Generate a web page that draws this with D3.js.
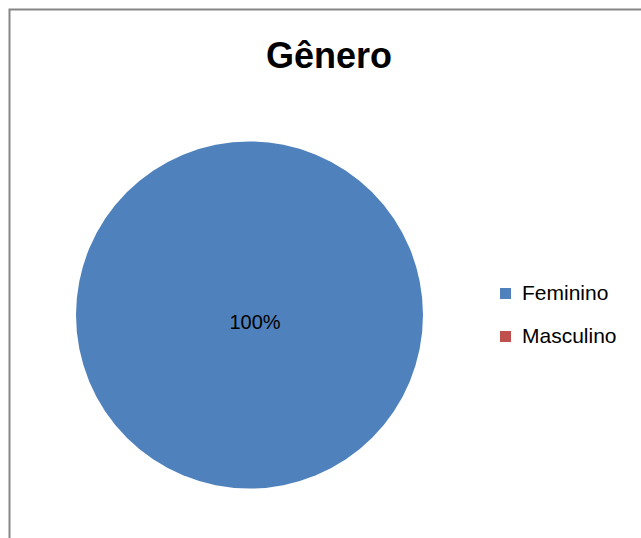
<!DOCTYPE html>
<html><head><meta charset="utf-8">
<script src="https://cdn.jsdelivr.net/npm/d3@7/dist/d3.min.js"></script>
<style>html,body{margin:0;padding:0;background:#fff;overflow:hidden}</style>
</head><body>
<svg id="c" width="641" height="538"></svg>
<script>
const title = "Gênero";
const categories = ["Feminino", "Masculino"];
const values = [100, 0];
const colors = ["#4F81BD", "#C0504D"];

const svg = d3.select("#c");
svg.append("rect").attr("x", 9.5).attr("y", 9.5).attr("width", 700).attr("height", 600)
  .attr("fill", "#fff").attr("stroke", "#868686").attr("stroke-width", 2);

svg.append("text").attr("x", 329).attr("y", 68).attr("text-anchor", "middle")
  .attr("font-family", "Liberation Sans, Arial, sans-serif").attr("font-weight", "bold")
  .attr("font-size", 36).attr("fill", "#000").text(title);

const cx = 249.5, cy = 315, r = 173.5;
const total = d3.sum(values);
const pie = d3.pie().sort(null).value(d => d)(values);
const arc = d3.arc().innerRadius(0).outerRadius(r);
const g = svg.append("g").attr("transform", `translate(${cx},${cy})`);
g.selectAll("path").data(pie).join("path").attr("d", arc).attr("fill", (d, i) => colors[i]);

const labelArc = d3.arc().innerRadius(0).outerRadius(0);
g.selectAll("text.lbl").data(pie.filter(d => d.value > 0)).join("text").attr("class", "lbl")
  .attr("x", d => labelArc.centroid(d)[0] + 5.5).attr("y", 14)
  .attr("text-anchor", "middle").attr("font-family", "Liberation Sans, Arial, sans-serif")
  .attr("font-size", 20).attr("fill", "#000")
  .text(d => d3.format(".0%")(d.value / total));

const leg = svg.append("g").attr("transform", "translate(500,288)");
const rows = leg.selectAll("g").data(categories).join("g")
  .attr("transform", (d, i) => `translate(0,${i * 43})`);
rows.append("rect").attr("width", 11).attr("height", 11).attr("fill", (d, i) => colors[i]);
rows.append("text").attr("x", 22).attr("y", 12).attr("font-family", "Liberation Sans, Arial, sans-serif")
  .attr("font-size", 21).attr("fill", "#000").text(d => d);
</script>
</body></html>
